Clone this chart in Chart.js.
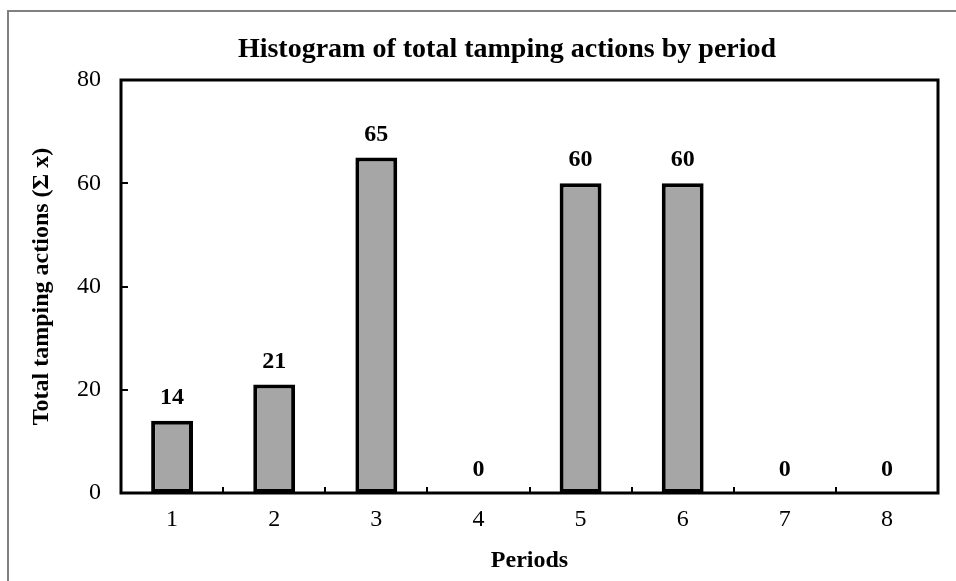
<!DOCTYPE html>
<html>
<head>
<meta charset="utf-8">
<script src="https://cdn.jsdelivr.net/npm/chart.js@4/dist/chart.umd.min.js"></script>
<style>
  body { margin: 0; background: #fff; }
  #wrap { position: relative; width: 956px; height: 581px; }
</style>
</head>
<body>
<div id="wrap"><canvas id="histChart"></canvas></div>
<script>
const periods = ['1', '2', '3', '4', '5', '6', '7', '8'];
const totalActions = [14, 21, 65, 0, 60, 60, 0, 0];
const yTicks = [0, 20, 40, 60, 80];

const chartTitle = 'Histogram of total tamping actions by period';
const xTitle = 'Periods';
const yTitle = 'Total tamping actions (\u03A3 x)';

const serif = '"Liberation Serif", "Times New Roman", serif';

// frame, plot box, inward ticks, value labels and titles
const decorations = {
  id: 'decorations',
  afterDraw(chart) {
    const ctx = chart.ctx;
    const area = chart.chartArea;
    const xs = chart.scales.x;
    const ys = chart.scales.y;
    ctx.save();

    // outer frame (only top/left visible)
    ctx.strokeStyle = '#808080';
    ctx.lineWidth = 2;
    ctx.strokeRect(8, 11, 960, 600);

    // plot box
    ctx.strokeStyle = '#000';
    ctx.lineWidth = 3;
    ctx.strokeRect(area.left, area.top, area.right - area.left, area.bottom - area.top);

    // x ticks between categories, pointing inward
    ctx.lineWidth = 2;
    ctx.beginPath();
    for (let i = 1; i < periods.length; i++) {
      const x = Math.round((xs.getPixelForTick(i - 1) + xs.getPixelForTick(i)) / 2);
      ctx.moveTo(x, area.bottom);
      ctx.lineTo(x, area.bottom - 6);
    }
    // y ticks, pointing inward
    yTicks.forEach(v => {
      const y = Math.round(ys.getPixelForValue(v));
      ctx.moveTo(area.left, y);
      ctx.lineTo(area.left + 7, y);
    });
    ctx.stroke();

    // value labels above bars
    ctx.fillStyle = '#000';
    ctx.font = 'bold 24px ' + serif;
    ctx.textAlign = 'center';
    ctx.textBaseline = 'middle';
    chart.getDatasetMeta(0).data.forEach((bar, i) => {
      ctx.fillText(String(totalActions[i]), bar.x, bar.y - 23);
    });

    // chart title
    ctx.font = 'bold 28px ' + serif;
    ctx.textBaseline = 'alphabetic';
    ctx.fillText(chartTitle, 507, 57);

    // x axis title
    ctx.font = 'bold 24px ' + serif;
    ctx.textBaseline = 'middle';
    ctx.fillText(xTitle, (area.left + area.right) / 2, 561);

    // y axis title
    ctx.translate(42, (area.top + area.bottom) / 2);
    ctx.rotate(-Math.PI / 2);
    ctx.fillText(yTitle, 0, 0);
    ctx.restore();
  }
};

const ctx = document.getElementById('histChart').getContext('2d');
new Chart(ctx, {
  type: 'bar',
  data: {
    labels: periods,
    datasets: [{
      data: totalActions,
      backgroundColor: '#a6a6a6',
      borderColor: '#000',
      borderWidth: 4,
      borderSkipped: false,
      categoryPercentage: 1,
      barPercentage: 0.41
    }]
  },
  options: {
    responsive: true,
    maintainAspectRatio: false,
    animation: false,
    layout: { padding: { top: 80, right: 18, left: 0, bottom: 0 } },
    plugins: {
      legend: { display: false },
      title: { display: false },
      tooltip: { enabled: false }
    },
    scales: {
      x: {
        grid: { display: false, drawTicks: false },
        border: { display: false },
        ticks: {
          color: '#000',
          font: { family: serif, size: 24 },
          padding: 12,
          maxRotation: 0
        },
        afterFit(scale) { scale.height = 88; }
      },
      y: {
        min: 0,
        max: 80,
        grid: { display: false, drawTicks: false },
        border: { display: false },
        afterBuildTicks(scale) { scale.ticks = yTicks.map(v => ({ value: v })); },
        ticks: {
          color: '#000',
          font: { family: serif, size: 24 },
          padding: 20
        },
        afterFit(scale) { scale.width = 121; }
      }
    }
  },
  plugins: [decorations]
});
</script>
</body>
</html>
